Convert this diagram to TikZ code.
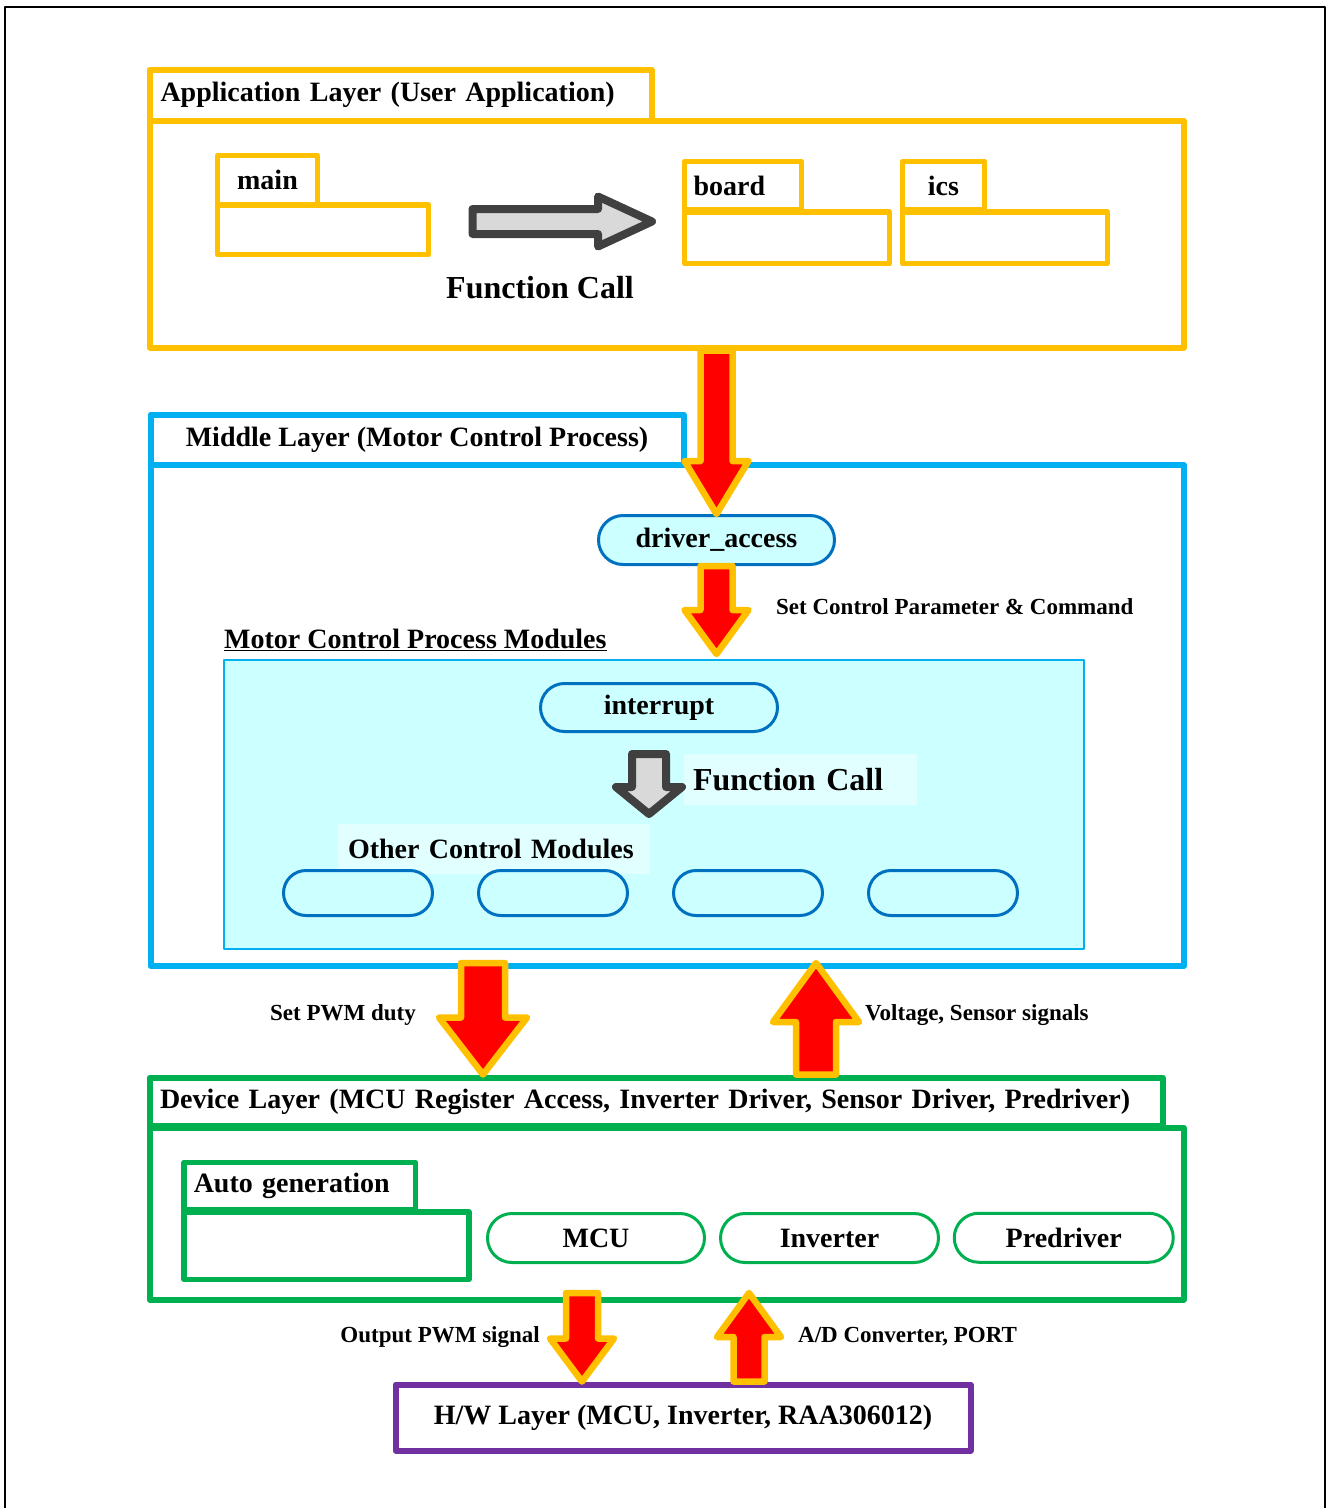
\documentclass[tikz,border=0pt]{standalone}
\usepackage{fontspec}
\setmainfont{Liberation Serif}
\usetikzlibrary{calc,shapes.misc}

\definecolor{appyellow}{HTML}{FFC000}
\definecolor{midcyan}{HTML}{00B0F0}
\definecolor{devgreen}{HTML}{00B050}
\definecolor{hwpurple}{HTML}{7030A0}
\definecolor{capblue}{HTML}{0070C0}
\definecolor{palecyan}{HTML}{CCFFFF}
\definecolor{paletext}{HTML}{E2FFFF}
\definecolor{arrowedge}{HTML}{404040}
\definecolor{arrowfill}{HTML}{D9D9D9}

% block arrow: style, from, tip, shaft half width, head half width, head length
\newcommand\fatarrow[6]{%
  \coordinate (hb) at ($(#3)!#6!(#2)$);
  \draw[#1] ($(#2)!#4!90:(#3)$) -- ($(hb)!#4!90:(#3)$) -- ($(hb)!#5!90:(#3)$) -- (#3)
    -- ($(hb)!#5!-90:(#3)$) -- ($(hb)!#4!-90:(#3)$) -- ($(#2)!#4!-90:(#3)$) -- cycle;}

\begin{document}
\begin{tikzpicture}[x=1pt, y=-1pt, line join=round,
  every node/.style={font=\bfseries\fontsize{28}{32}\selectfont},
  box/.style 2 args={minimum width=#1pt, minimum height=#2pt, inner sep=0pt},
  layer/.style={draw=#1, line width=6pt, fill=white},
  sub box/.style={draw=#1, line width=5.5pt, fill=white},
  module/.style={rounded rectangle, draw=capblue, fill=palecyan, line width=3pt, inner sep=0pt},
  dev module/.style={rounded rectangle, draw=devgreen, fill=white, line width=3pt, inner sep=0pt},
  note/.style={font=\bfseries\fontsize{23}{27}\selectfont, inner sep=0pt},
  big/.style={font=\bfseries\fontsize{32}{36}\selectfont},
  red arrow/.style={fill=red, draw=appyellow, line width=6.5pt},
  gray arrow/.style={fill=arrowfill, draw=arrowedge, line width=8pt}]

  \useasboundingbox (0,0) rectangle (1328,1508);
  \draw[line width=1.5pt] (5,1508) -- (5,7) -- (1325,7) -- (1325,1508);

  \node[layer=appyellow, box={502}{51}, text width=480pt, inner xsep=11pt, align=left] at (400.5,95) (apptab) {Application Layer (User Application)};
  \node[layer=appyellow, box={1034}{227}] at (666.5,234) (appbody) {};
  \node[sub box=appyellow, box={100}{49.5}] at (267.5,180.25) (maintab) {main};
  \node[sub box=appyellow, box={211}{49.5}] at (323,229.75) (mainbody) {};
  \node[sub box=appyellow, box={117}{48.5}, text width=99pt, inner xsep=9pt, align=left] at (743,185.75) (boardtab) {board};
  \node[sub box=appyellow, box={205}{51.5}] at (787,237.75) (boardbody) {};
  \node[sub box=appyellow, box={82}{48.5}] at (943.5,185.75) (icstab) {ics};
  \node[sub box=appyellow, box={205}{51.5}] at (1005,237.75) (icsbody) {};
  \node[big] at (540,288) (fcall1) {Function Call};

  \node[layer=midcyan, box={533}{50}] at (417,439.5) (midtab) {Middle Layer (Motor Control Process)};
  \node[layer=midcyan, box={1033.5}{501}] at (667.25,715.5) (midbody) {};
  \node[module, box={236}{49}] at (716.5,540) (dacc) {driver\_access};
  \node[note, anchor=west] at (776,607) (setctrl) {Set Control Parameter \& Command};
  \node[anchor=west, inner sep=0pt] at (224,640) (mcpm) {\underline{Motor Control Process Modules}};
  \node[draw=midcyan, fill=palecyan, line width=2pt, box={860}{289}] at (654,804.5) (mods) {};
  \node[module, box={237}{48}] at (659,707.5) (intr) {interrupt};
  \node[big, fill=paletext, box={233}{51}, text width=215pt, inner xsep=9pt, align=left] at (800.5,779.5) (fcall2) {Function Call};
  \node[fill=paletext, box={312}{50}, text width=292pt, inner xsep=10pt, align=left] at (494,849) (others) {Other Control Modules};
  \node[module, box={149}{45}] at (358,893) (m1) {};
  \node[module, box={149}{45}] at (553,893) (m2) {};
  \node[module, box={149}{45}] at (748,893) (m3) {};
  \node[module, box={149}{45}] at (943,893) (m4) {};

  \node[note, anchor=east] at (416,1015) (pwmduty) {Set PWM duty};
  \node[note, anchor=west] at (865,1015) (sensors) {Voltage, Sensor signals};

  \node[layer=devgreen, box={1013}{48}, text width=992pt, inner xsep=10.5pt, align=left] at (656,1101.5) (devtab) {Device Layer (MCU Register Access, Inverter Driver, Sensor Driver, Predriver)};
  \node[layer=devgreen, box={1034}{172}] at (666.5,1213.5) (devbody) {};
  \node[sub box=devgreen, box={231.5}{47.5}, text width=212pt, inner xsep=9.75pt, align=left] at (299.75,1186.25) (autotab) {Auto generation};
  \node[sub box=devgreen, box={285}{67.5}] at (326.5,1245.75) (autobody) {};
  \node[dev module, box={217}{49}] at (596,1238) (mcu) {MCU};
  \node[dev module, box={218}{49}] at (829.5,1238) (inv) {Inverter};
  \node[dev module, box={219}{49}] at (1063.75,1237.75) (pre) {Predriver};

  \node[note, anchor=east] at (540,1337) (outpwm) {Output PWM signal};
  \node[note, anchor=west] at (798,1337) (adport) {A/D Converter, PORT};
  \node[draw=hwpurple, line width=6pt, box={575}{66}] at (683,1417.5) (hw) {H/W Layer (MCU, Inverter, RAA306012)};

  \coordinate (g1a) at (472.5,221.5);
  \coordinate (g1b) at (652,221.5);
  \coordinate (g2a) at (649,754);
  \coordinate (g2b) at (649,814);
  \coordinate (r1a) at (appbody.south -| dacc.north);
  \coordinate (r2b) at ($(dacc.south |- mods.north)+(0,-5)$);
  \coordinate (pwm) at (483,963);
  \coordinate (volt) at (816,963);
  \coordinate (opwm) at (582,1293);
  \coordinate (adc) at (749,1293);

  \fatarrow{gray arrow}{g1a}{g1b}{12.5pt}{25pt}{54pt}
  \fatarrow{gray arrow}{g2a}{g2b}{17pt}{33pt}{27pt}
  \fatarrow{red arrow}{r1a}{dacc.north}{16pt}{32pt}{53pt}
  \fatarrow{red arrow}{dacc.south}{r2b}{16pt}{32pt}{44pt}
  \fatarrow{red arrow}{pwm}{pwm |- devtab.north}{22pt}{44pt}{57pt}
  \fatarrow{red arrow}{volt |- devtab.north}{volt}{20pt}{43pt}{59pt}
  \fatarrow{red arrow}{opwm}{opwm |- hw.north}{16pt}{32pt}{43pt}
  \fatarrow{red arrow}{adc |- hw.north}{adc}{15.5pt}{32pt}{44pt}
\end{tikzpicture}
\end{document}
